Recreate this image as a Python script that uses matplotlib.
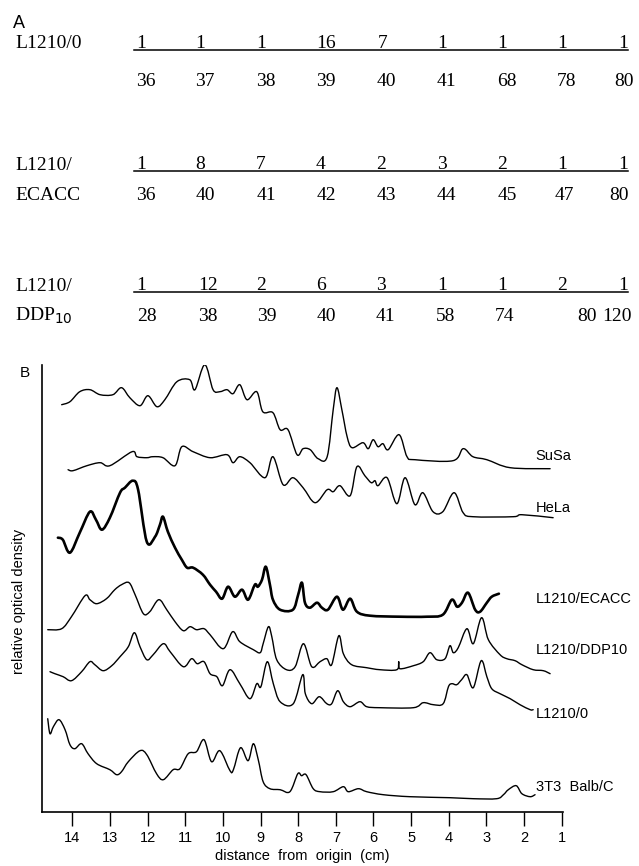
import matplotlib
matplotlib.use('Agg')
import matplotlib.pyplot as plt
from matplotlib.lines import Line2D
from matplotlib.path import Path
from matplotlib.patches import PathPatch

# ---------------- panel A data ----------------
row_names = [['L1210/0', ''], ['L1210/', 'ECACC'], ['L1210/', 'DDP$_{10}$']]
row_counts = [[1, 1, 1, 16, 7, 1, 1, 1, 1],
              [1, 8, 7, 4, 2, 3, 2, 1, 1],
              [1, 12, 2, 6, 3, 1, 1, 2, 1]]
row_sizes = [[36, 37, 38, 39, 40, 41, 68, 78, 80],
             [36, 40, 41, 42, 43, 44, 45, 47, 80],
             [28, 38, 39, 40, 41, 58, 74, 80, 120]]

# ---------------- panel B data (distance in cm, relative density) ----------------
susa_x = [14.28, 14.06, 13.80, 13.53, 13.26, 12.92, 12.69, 12.47, 12.20, 11.99, 11.75, 11.54,
          11.22, 10.88, 10.74, 10.48, 10.26, 10.08, 9.89, 9.73, 9.55, 9.36, 9.10, 8.94, 8.67,
          8.48, 8.27, 8.03, 7.87, 7.68, 7.47, 7.23, 7.07, 6.97, 6.84, 6.70, 6.57, 6.28, 6.14,
          6.01, 5.88, 5.75, 5.61, 5.32, 5.11, 4.90, 3.89, 3.62, 3.36, 2.99, 2.37, 1.31]
susa_y = [67, 70, 80, 82, 77, 77, 84, 74, 66, 76, 65, 72,
          90, 92, 82, 107, 82, 80, 82, 78, 87, 72, 80, 60, 59,
          42, 42, 17, 23, 22, 13, 15, 62, 84, 62, 35, 24, 29, 23,
          32, 25, 28, 22, 37, 15, 12, 11, 23, 15, 12, 4, 3]

hela_x = [14.11, 13.98, 13.61, 13.26, 13.00, 12.41, 12.28, 12.02, 11.86, 11.59, 11.27, 11.09,
          10.79, 10.34, 9.89, 9.73, 9.55, 9.28, 8.88, 8.67, 8.40, 8.14, 7.87, 7.55, 7.23, 7.07,
          6.89, 6.62, 6.44, 6.23, 6.06, 5.96, 5.88, 5.64, 5.38, 5.16, 4.90, 4.69, 4.42, 4.16,
          3.86, 3.62, 3.36, 2.29, 2.06, 1.23]
hela_y = [52, 51, 56, 59, 56, 70, 65, 64, 65, 64, 56, 75,
          70, 64, 67, 59, 65, 59, 44, 65, 37, 44, 34, 19, 32, 30,
          36, 26, 55, 46, 39, 41, 36, 44, 18, 44, 17, 29, 10, 10,
          29, 9, 5, 5, 7, 4]

ecacc_x = [14.38, 14.25, 14.06, 13.80, 13.53, 13.37, 13.21, 13.00, 12.73, 12.60, 12.39, 12.25,
           12.02, 11.80, 11.67, 11.59, 11.46, 11.27, 11.09, 10.95, 10.79, 10.53, 10.34, 10.18,
           10.02, 9.86, 9.68, 9.49, 9.33, 9.15, 9.07, 8.96, 8.86, 8.75, 8.67, 8.48, 8.14, 8.00,
           7.90, 7.82, 7.69, 7.50, 7.37, 7.21, 6.97, 6.81, 6.62, 6.44, 6.09, 5.30, 4.58, 4.16,
           3.92, 3.78, 3.65, 3.49, 3.30, 3.17, 2.99, 2.86, 2.67]
ecacc_y = [84, 82, 69, 89, 110, 102, 92, 104, 129, 134, 141, 132,
           80, 85, 97, 105, 90, 74, 62, 54, 54, 47, 37, 30,
           23, 35, 25, 32, 22, 37, 35, 42, 55, 37, 22, 12, 12, 27,
           39, 19, 14, 19, 14, 12, 25, 12, 23, 10, 6, 5, 5, 7,
           22, 15, 19, 29, 12, 10, 19, 25, 28]

ddp_x = [14.65, 14.28, 14.02, 13.66, 13.53, 13.35, 13.09, 12.87, 12.69, 12.49, 12.33, 12.11,
         11.94, 11.70, 11.49, 11.27, 11.05, 10.87, 10.70, 10.50, 10.34, 9.99, 9.74, 9.55, 9.19,
         9.01, 8.93, 8.79, 8.70, 8.57, 8.31, 8.08, 7.86, 7.64, 7.42, 7.24, 7.11, 6.92, 6.80,
         6.58, 6.18, 5.83, 5.38, 5.33, 5.30, 4.94, 4.68, 4.50, 4.32, 4.10, 3.97, 3.88, 3.75,
         3.52, 3.35, 3.13, 2.95, 2.64, 2.46, 2.24, 2.06, 1.76, 1.49, 1.31]
ddp_y = [47, 48, 60, 81, 77, 73, 78, 87, 92, 94, 82, 63,
         65, 77, 67, 55, 46, 50, 47, 48, 42, 28, 45, 35, 27,
         24, 33, 50, 40, 17, 7, 10, 33, 10, 15, 18, 12, 41, 23,
         12, 9, 7, 7, 15, 8, 11, 15, 24, 17, 18, 31, 24, 29,
         48, 33, 59, 37, 22, 18, 16, 12, 7, 6, 3]

l0_x = [14.59, 14.46, 14.24, 14.02, 13.75, 13.53, 13.40, 13.18, 12.95, 12.73, 12.51, 12.35,
        12.20, 12.02, 11.85, 11.58, 11.40, 11.05, 10.83, 10.68, 10.50, 10.34, 10.16, 10.01,
        9.81, 9.55, 9.28, 9.10, 8.99, 8.82, 8.66, 8.48, 8.13, 7.88, 7.81, 7.64, 7.44, 7.24,
        7.11, 6.95, 6.80, 6.62, 6.36, 6.18, 5.83, 4.94, 4.68, 4.41, 4.15, 4.01, 3.92, 3.79,
        3.66, 3.52, 3.35, 3.14, 2.99, 2.86, 2.64, 2.37, 2.11, 1.84, 1.76]
l0_y = [40, 38, 35, 31, 40, 50, 47, 41, 46, 55, 65, 79,
        65, 52, 57, 68, 60, 45, 53, 48, 50, 38, 35, 26,
        42, 28, 13, 28, 25, 50, 28, 10, 8, 37, 18, 8, 15, 8,
        8, 21, 10, 5, 10, 5, 4, 4, 9, 7, 8, 25, 28, 27,
        32, 37, 24, 51, 35, 23, 18, 13, 7, 2, 2]

t3_x = [14.65, 14.59, 14.50, 14.35, 14.19, 14.06, 13.93, 13.75, 13.58, 13.35, 13.00, 12.82,
        12.69, 12.51, 12.20, 12.02, 11.76, 11.58, 11.32, 11.14, 10.92, 10.70, 10.50, 10.30,
        10.08, 9.81, 9.72, 9.53, 9.33, 9.19, 9.06, 8.93, 8.75, 8.48, 8.22, 8.01, 7.91, 7.79,
        7.60, 7.42, 7.07, 6.80, 6.67, 6.40, 6.18, 5.74, 5.03, 3.97, 3.35, 2.73, 2.55, 2.42,
        2.21, 2.06, 1.84, 1.71]
t3_y = [83, 68, 75, 82, 72, 57, 53, 58, 48, 38, 32, 27,
        30, 40, 51, 47, 28, 22, 32, 33, 48, 50, 62, 40,
        51, 31, 32, 54, 41, 58, 42, 20, 13, 12, 10, 28, 26, 27,
        13, 10, 10, 15, 10, 13, 10, 7, 5, 4, 3, 3, 7, 12,
        16, 8, 5, 7]

names = ['SuSa', 'HeLa', 'L1210/ECACC', 'L1210/DDP10', 'L1210/0', '3T3  Balb/C']
xs = [susa_x, hela_x, ecacc_x, ddp_x, l0_x, t3_x]
ys = [susa_y, hela_y, ecacc_y, ddp_y, l0_y, t3_y]
offsets = [340, 290, 190, 135, 100, 10]
label_dy = [16, 14, 23, 27, -2, 15]
widths = [1.0, 1.0, 1.9, 1.0, 1.0, 1.0]

W, H = 639, 866
fig = plt.figure(figsize=(W / 100, H / 100), dpi=100)


def fx(x):
    return x / W


def fy(y):
    return 1 - y / H


def smooth_path(x, y):
    # bezier curve through the read points (catmull-rom style handles)
    n = len(x)
    verts = [(x[0], y[0])]
    codes = [Path.MOVETO]
    for i in range(n - 1):
        x0, y0 = (x[i - 1], y[i - 1]) if i > 0 else (x[i], y[i])
        x3, y3 = (x[i + 2], y[i + 2]) if i + 2 < n else (x[i + 1], y[i + 1])
        c1 = (x[i] + (x[i + 1] - x0) / 6, y[i] + (y[i + 1] - y0) / 6)
        c2 = (x[i + 1] - (x3 - x[i]) / 6, y[i + 1] - (y3 - y[i]) / 6)
        verts += [c1, c2, (x[i + 1], y[i + 1])]
        codes += [Path.CURVE4] * 3
    return Path(verts, codes)


serif = 'Liberation Serif'
sans = 'Liberation Sans'

# ---------------- panel A ----------------
fig.text(fx(13), fy(28), 'A', fontsize=13, family=sans, va='baseline')

upper_x = [[141, 200, 261, 326, 383, 442, 502, 562, 623],
           [141, 200, 261, 321, 381, 442, 502, 562, 623],
           [141, 208, 261, 321, 381, 442, 502, 562, 623]]
lower_x = [[146, 205, 266, 326, 386, 446, 507, 566, 624],
           [146, 205, 266, 326, 386, 446, 507, 564, 619],
           [147, 208, 267, 326, 385, 446, 505, 587, 617]]
line_y = [49.5, 170.5, 292]
lower_y = [86.5, 200, 321]
name2_y = [86.5, 200, 321]

for r in range(3):
    fig.text(fx(15), fy(line_y[r] - 1), row_names[r][0], fontsize=14, family=serif, va='baseline')
    if row_names[r][1]:
        fig.text(fx(15), fy(name2_y[r]), row_names[r][1], fontsize=14, family=serif, va='baseline')
    fig.add_artist(Line2D([fx(134), fx(628)], [fy(line_y[r]), fy(line_y[r])], color='black', lw=1.1))
    for k in range(9):
        fig.text(fx(upper_x[r][k]), fy(line_y[r] - 1.5), str(row_counts[r][k]), fontsize=14,
                 family=serif, ha='center', va='baseline')
        fig.text(fx(lower_x[r][k]), fy(lower_y[r]), str(row_sizes[r][k]), fontsize=14,
                 family=serif, ha='center', va='baseline')

# ---------------- panel B ----------------
fig.text(fx(20), fy(377), 'B', fontsize=11, family=sans, va='baseline')

ax = fig.add_axes([fx(41.7), 1 - 811.7 / H, (563.3 - 41.7) / W, 446.7 / H])
for i in range(len(names)):
    yy = [v + offsets[i] for v in ys[i]]
    ax.add_patch(PathPatch(smooth_path(xs[i], yy), fill=False, edgecolor='black',
                           lw=widths[i], joinstyle='round', capstyle='round'))
    ax.text(1.69, offsets[i] + label_dy[i], names[i], fontsize=10.5, family=sans,
            ha='left', va='center')

ax.set_xlim(14.81, 0.96)
ax.set_ylim(0, 446.7)
ax.set_xticks(range(14, 0, -1))
ax.set_xticklabels([str(t) for t in range(14, 0, -1)], fontsize=10.5, family=sans)
ax.set_yticks([])
ax.tick_params(axis='x', direction='out', length=10, width=1, pad=4)
ax.spines['top'].set_visible(False)
ax.spines['right'].set_visible(False)
ax.spines['left'].set_linewidth(1.2)
ax.spines['bottom'].set_linewidth(1.2)
ax.patch.set_alpha(0)
ax.set_xlabel('distance  from  origin  (cm)', fontsize=10.5, family=sans, labelpad=3)

fig.text(fx(19), fy(601), 'relative optical density', fontsize=10.5, family=sans,
         rotation=90, ha='center', va='center')

fig.savefig('out.png', dpi=100)
